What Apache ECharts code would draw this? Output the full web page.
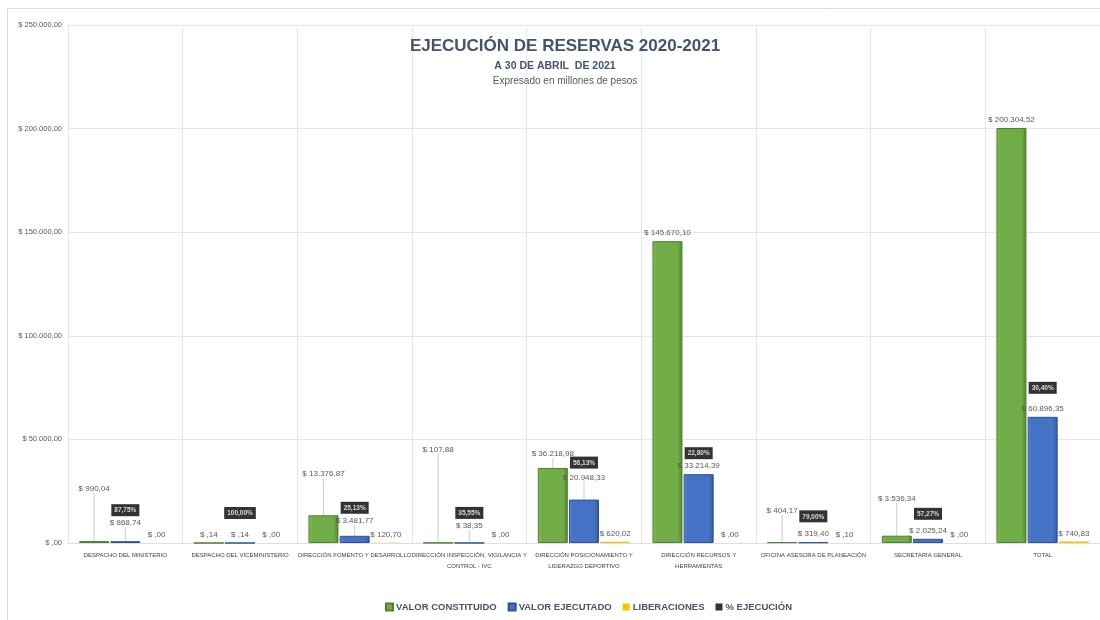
<!DOCTYPE html>
<html>
<head>
<meta charset="utf-8">
<title>Ejecución de reservas 2020-2021</title>
<script src="https://cdn.jsdelivr.net/npm/echarts@6/dist/echarts.min.js"></script>
<style>
  html, body { margin: 0; padding: 0; background: #fff; }
  #chart { width: 1100px; height: 620px; }
</style>
</head>
<body>
<div id="chart"></div>
<script>
// datos (millones de pesos)
var dependencias = [
  "DESPACHO DEL MINISTERIO",
  "DESPACHO DEL VICEMINISTERIO",
  "DIRECCIÓN FOMENTO Y DESARROLLO",
  "DIRECCIÓN INSPECCIÓN, VIGILANCIA Y\nCONTROL - IVC",
  "DIRECCIÓN POSICIONAMIENTO Y\nLIDERAZGO DEPORTIVO",
  "DIRECCIÓN RECURSOS Y\nHERRAMIENTAS",
  "OFICINA ASESORA DE PLANEACIÓN",
  "SECRETARIA GENERAL",
  "TOTAL"
];
var valorConstituido = [990.04, 0.14, 13376.87, 107.88, 36218.98, 145670.10, 404.17, 3536.34, 200304.52];
var valorEjecutado = [868.74, 0.14, 3481.77, 38.35, 20948.33, 33214.39, 319.40, 2025.24, 60896.35];
var liberaciones = [0, 0, 120.70, 0, 620.02, 0, 0.10, 0, 740.83];
var ejecucion = [87.75, 100, 25.13, 35.55, 56.13, 22.80, 79.00, 57.27, 30.4];
var ejeY = { min: 0, max: 250000, step: 50000 };

// desplazamiento de las etiquetas (px hacia arriba)
var subirConst = [44, 0, 33, 85, 6, 0, 23, 29, 0];
var subirEjec = [10, 0, 7, 9, 14, 0, 0, 0, 0];
var subirPct = [10, 9, 7, 9, 16, 0, 5, 4, 8];

var FUENTE = '"Liberation Sans", Arial, sans-serif';

function pesos(v) {
  var partes = Number(v).toFixed(2).split(".");
  var entero = partes[0] === "0" ? "" : partes[0].replace(/\B(?=(\d{3})+(?!\d))/g, ".");
  return "$ " + entero + "," + partes[1];
}
function porcentaje(v) {
  return v.toFixed(2).replace(".", ",") + "%";
}
function barra(c0, c1, c2) {
  return new echarts.graphic.LinearGradient(0, 0, 1, 0, [
    { offset: 0, color: c0 },
    { offset: 0.12, color: c1 },
    { offset: 0.85, color: c1 },
    { offset: 1, color: c2 }
  ]);
}
function conLinea(valores, subir) {
  return valores.map(function (v, i) {
    return { value: v, labelLine: { show: subir[i] > 0 } };
  });
}

var etiqueta = {
  show: true,
  position: "top",
  distance: 4,
  fontSize: 8,
  fontFamily: FUENTE,
  color: "#595959",
  formatter: function (p) { return pesos(p.value); }
};
var linea = { lineStyle: { color: "#c3cedb", width: 1 } };

var chart = echarts.init(document.getElementById("chart"));
chart.setOption({
  animation: false,
  backgroundColor: "#fff",
  graphic: [
    { type: "rect", z: 100, shape: { x: 7.5, y: 8.5, width: 1100, height: 620 }, style: { fill: "none", stroke: "#d9d9d9", lineWidth: 1 }, silent: true },
    { type: "text", z: 100, x: 565, y: 46, style: { text: "EJECUCIÓN DE RESERVAS 2020-2021", font: "bold 17px " + FUENTE, fill: "#44546a", textAlign: "center", textVerticalAlign: "middle" } },
    { type: "text", z: 100, x: 555, y: 66, style: { text: "A 30 DE ABRIL  DE 2021", font: "bold 10.5px " + FUENTE, fill: "#44546a", textAlign: "center", textVerticalAlign: "middle" } },
    { type: "text", z: 100, x: 565, y: 81, style: { text: "Expresado en millones de pesos", font: "10px " + FUENTE, fill: "#595959", textAlign: "center", textVerticalAlign: "middle" } }
  ],
  legend: {
    left: 380,
    top: 597,
    icon: "rect",
    itemWidth: 7,
    itemHeight: 7,
    itemGap: 11,
    textStyle: { fontSize: 9.5, fontWeight: "bold", fontFamily: FUENTE, color: "#44546a", padding: [0, 0, 0, -2] },
    data: ["VALOR CONSTITUIDO", "VALOR EJECUTADO", "LIBERACIONES", "% EJECUCIÓN"]
  },
  grid: { left: 68, right: 0, top: 25, bottom: 77, outerBoundsMode: "none" },
  xAxis: {
    type: "category",
    data: dependencias,
    axisLine: { lineStyle: { color: "#d9e0ea" } },
    axisTick: { show: false },
    splitLine: { show: true, lineStyle: { color: "#e3e8f0" } },
    axisLabel: {
      interval: 0,
      margin: 7,
      fontSize: 6,
      lineHeight: 11,
      fontFamily: FUENTE,
      color: "#404040"
    }
  },
  yAxis: {
    type: "value",
    min: ejeY.min,
    max: ejeY.max,
    interval: ejeY.step,
    axisLine: { show: true, lineStyle: { color: "#e3e8f0" } },
    axisTick: { show: false },
    splitLine: { lineStyle: { color: "#e3e8f0" } },
    axisLabel: {
      margin: 6,
      fontSize: 7.5,
      fontFamily: FUENTE,
      color: "#595959",
      formatter: function (v) { return pesos(v); }
    }
  },
  series: [
    {
      name: "VALOR CONSTITUIDO",
      type: "bar",
      barWidth: 30,
      barGap: "4%",
      data: conLinea(valorConstituido, subirConst),
      itemStyle: { color: barra("#86c25a", "#70ad47", "#4f7f30"), borderColor: "#507f31", borderWidth: 1 },
      label: etiqueta,
      labelLine: linea,
      labelLayout: function (p) { return { dy: -subirConst[p.dataIndex] }; }
    },
    {
      name: "VALOR EJECUTADO",
      type: "bar",
      barWidth: 30,
      data: conLinea(valorEjecutado, subirEjec),
      itemStyle: { color: barra("#5d88d4", "#4472c4", "#2f5597"), borderColor: "#2f528f", borderWidth: 1 },
      label: etiqueta,
      labelLine: linea,
      labelLayout: function (p) { return { dy: -subirEjec[p.dataIndex] }; }
    },
    {
      name: "LIBERACIONES",
      type: "bar",
      barWidth: 30,
      data: liberaciones,
      itemStyle: { color: "#ffc000" },
      label: etiqueta
    },
    {
      name: "% EJECUCIÓN",
      type: "scatter",
      symbolSize: 0,
      z: 5,
      data: valorEjecutado,
      itemStyle: { color: "#000" },
      label: {
        show: true,
        position: "top",
        distance: 15,
        fontSize: 6.5,
        fontWeight: "bold",
        fontFamily: FUENTE,
        color: "#fff",
        backgroundColor: "#000",
        padding: [3, 3, 2, 3],
        formatter: function (p) { return porcentaje(ejecucion[p.dataIndex]); }
      },
      labelLayout: function (p) { return { dy: -subirPct[p.dataIndex] }; }
    }
  ]
});
</script>
</body>
</html>
